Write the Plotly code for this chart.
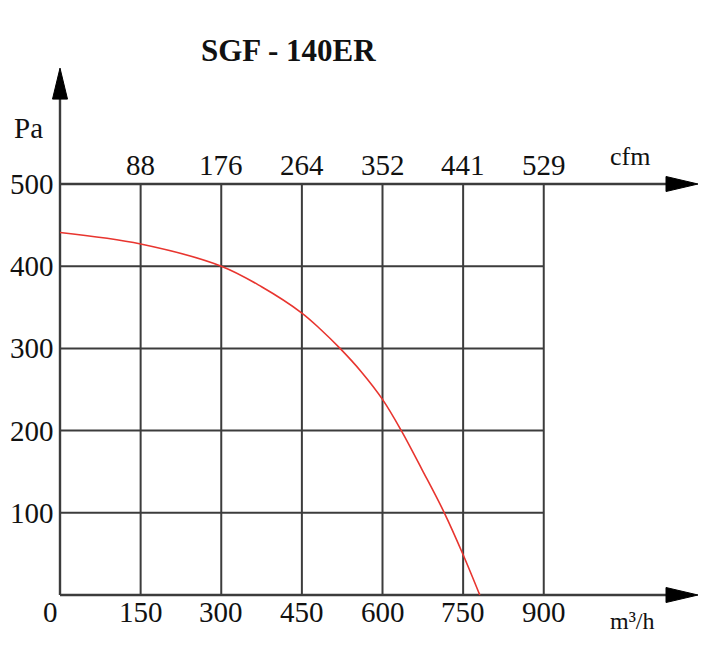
import plotly.graph_objects as go

# ---- data ----
flow_m3h = [0, 150, 300, 375, 450, 485, 521, 560, 600, 635, 674, 715, 750, 781]
pressure_pa = [441, 427, 400, 375, 343, 323, 300, 272, 238, 200, 152, 100, 49, 0]

x_ticks = [0, 150, 300, 450, 600, 750, 900]
x_tick_labels = ["0", "150", "300", "450", "600", "750", "900"]
cfm_ticks = [150, 300, 450, 600, 750, 900]
cfm_labels = ["88", "176", "264", "352", "441", "529"]
y_ticks = [100, 200, 300, 400, 500]
y_tick_labels = ["100", "200", "300", "400", "500"]

title_text = "SGF - 140ER"
x_unit = "m³/h"
y_unit = "Pa"
top_unit = "cfm"

X_TIP = 1187
Y_TIP = 641
GRID_X_END = 900
GRID_Y_END = 500

FONT = "Liberation Serif"
GRID_COLOR = "#3c3c3c"
LBL = 29

fig = go.Figure()

fig.add_trace(go.Scatter(
    x=flow_m3h, y=pressure_pa, mode="lines",
    line=dict(color="#e8352f", width=1.6, shape="spline", smoothing=1.0),
    hoverinfo="skip", showlegend=False,
))

shapes = []
for xv in x_ticks[1:]:
    shapes.append(dict(type="line", x0=xv, x1=xv, y0=0, y1=GRID_Y_END,
                       line=dict(color=GRID_COLOR, width=2), layer="below"))
for yv in y_ticks[:-1]:
    shapes.append(dict(type="line", x0=0, x1=GRID_X_END, y0=yv, y1=yv,
                       line=dict(color=GRID_COLOR, width=2), layer="below"))
shapes.append(dict(type="line", x0=0, x1=X_TIP - 40, y0=GRID_Y_END, y1=GRID_Y_END,
                   line=dict(color=GRID_COLOR, width=2.4), layer="below"))
shapes.append(dict(type="line", x0=0, x1=X_TIP - 40, y0=0, y1=0,
                   line=dict(color=GRID_COLOR, width=2.4), layer="below"))
shapes.append(dict(type="line", x0=0, x1=0, y0=0, y1=Y_TIP - 20,
                   line=dict(color=GRID_COLOR, width=2.4), layer="below"))
shapes.append(dict(type="path", xsizemode="pixel", ysizemode="pixel",
                   xanchor=0, yanchor=Y_TIP, path="M0,0 L-7.5,-31 L7.5,-31 Z",
                   fillcolor="black", line=dict(color="black", width=1)))
for ya in (0, GRID_Y_END):
    shapes.append(dict(type="path", xsizemode="pixel", ysizemode="pixel",
                       xanchor=X_TIP, yanchor=ya, path="M0,0 L-32,7.5 L-32,-7.5 Z",
                       fillcolor="black", line=dict(color="black", width=1)))

annotations = []
for xv, t in zip(x_ticks, x_tick_labels):
    annotations.append(dict(x=xv, y=0, text=t, showarrow=False, xanchor="center",
                            yanchor="top", yshift=1, xshift=(-10 if xv == 0 else 0),
                            font=dict(family=FONT, size=LBL, color="#111")))
for xv, t in zip(cfm_ticks, cfm_labels):
    annotations.append(dict(x=xv, y=GRID_Y_END, text=t, showarrow=False, xanchor="center",
                            yanchor="bottom", yshift=1,
                            font=dict(family=FONT, size=LBL, color="#111")))
for yv, t in zip(y_ticks, y_tick_labels):
    annotations.append(dict(x=0, y=yv, text=t, showarrow=False, xanchor="right",
                            yanchor="middle", xshift=-4,
                            font=dict(family=FONT, size=LBL, color="#111")))
annotations.append(dict(x=0, y=GRID_Y_END, text=y_unit, showarrow=False, xanchor="center",
                        yanchor="middle", xshift=-32, yshift=56,
                        font=dict(family=FONT, size=LBL, color="#111")))
annotations.append(dict(x=X_TIP, y=GRID_Y_END, text=top_unit, showarrow=False, xanchor="center",
                        yanchor="middle", xshift=-68, yshift=28,
                        font=dict(family=FONT, size=26, color="#111")))
annotations.append(dict(x=X_TIP, y=0, text=x_unit, showarrow=False, xanchor="center",
                        yanchor="middle", xshift=-66, yshift=-26,
                        font=dict(family=FONT, size=24, color="#111")))
annotations.append(dict(x=0, y=Y_TIP, text="<b>" + title_text + "</b>",
                        showarrow=False, xanchor="center", yanchor="middle",
                        xshift=228, yshift=18,
                        font=dict(family=FONT, size=31, color="#111")))

# plot area extends slightly beyond the drawing so arrows/axes are not clipped
SX = 0.5375  # px per m3/h
SY = 0.822   # px per Pa
L, R, T, B = 40, 11, 48, 57
x_min = -(60 - L) / SX
x_max = (719 - R - 60) / SX
y_min = -(672 - B - 595) / SY
y_max = (595 - T) / SY

fig.update_layout(
    width=719, height=672,
    margin=dict(l=L, r=R, t=T, b=B, pad=0),
    paper_bgcolor="white", plot_bgcolor="white",
    xaxis=dict(range=[x_min, x_max], visible=False, fixedrange=True),
    yaxis=dict(range=[y_min, y_max], visible=False, fixedrange=True),
    shapes=shapes, annotations=annotations,
    showlegend=False,
)

fig.write_html("out.html")
